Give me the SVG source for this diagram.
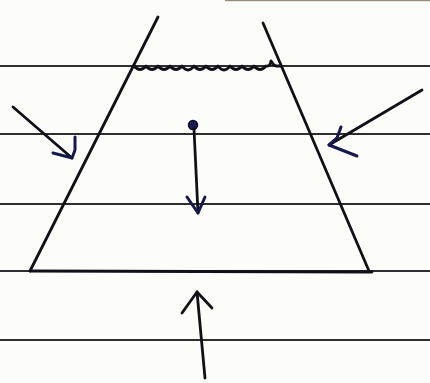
<svg xmlns="http://www.w3.org/2000/svg" width="430" height="383" viewBox="0 0 430 383">
<style>
.paper{stroke:#2e2e2e;stroke-width:2;fill:none}
.ink{stroke:#101018;stroke-width:2.8;fill:none;stroke-linecap:round;stroke-linejoin:round}
.blue{stroke:#15184a;stroke-width:3;fill:none;stroke-linecap:round;stroke-linejoin:round}
</style>
<rect width="430" height="383" fill="#fcfcf8"/>
<rect x="225" y="0" width="205" height="1.2" fill="#9a8a7e"/>
<g id="paper-lines">
<line class="paper" x1="0" y1="66" x2="430" y2="66"/>
<line class="paper" x1="0" y1="134" x2="430" y2="134"/>
<line class="paper" x1="0" y1="204" x2="430" y2="204"/>
<line class="paper" x1="0" y1="271" x2="430" y2="271"/>
<line class="paper" x1="0" y1="340" x2="430" y2="340"/>
</g>
<g id="vessel">
<polyline class="ink" points="158,17 30,271"/>
<polyline class="ink" points="263,23 369,271"/>
<line class="ink" x1="30" y1="271" x2="372" y2="272" stroke-width="3.2"/>
</g>
<g id="liquid-surface">
<path class="ink" stroke-width="2.2" d="M134,66 q6,7 12,0 q6,7 12,0 q6,7 12,0 q6,7 12,0 q6,8 12,0 q6,7 12,0 q6,7 12,0 q6,8 12,0 q6,7 12,0 q6,7 12,0 q6,7 12,0 q4,1 5,-5 q2,4 5,5 l5,0"/>
</g>
<g id="particle">
<circle cx="193" cy="125" r="4.5" fill="#1b1e55" stroke="#0d0f2a" stroke-width="1.5"/>
</g>
<g id="connectors">
<g id="arrow-left">
<line class="ink" x1="13" y1="107" x2="72" y2="158"/>
<polyline class="blue" points="75,137 75,150 72,158 53,153"/>
</g>
<g id="arrow-right">
<line class="ink" x1="422" y1="90" x2="329" y2="145"/>
<polyline class="blue" points="341,127 337,138 329,145 357,156"/>
</g>
<g id="arrow-center">
<line class="ink" x1="194" y1="129" x2="198" y2="213"/>
<polyline class="blue" points="187,197 198,213 205,197"/>
</g>
<g id="arrow-bottom">
<line class="ink" x1="205" y1="378" x2="197" y2="292"/>
<polyline class="ink" points="182,313 197,292 212,308"/>
</g>
</g>
</svg>
